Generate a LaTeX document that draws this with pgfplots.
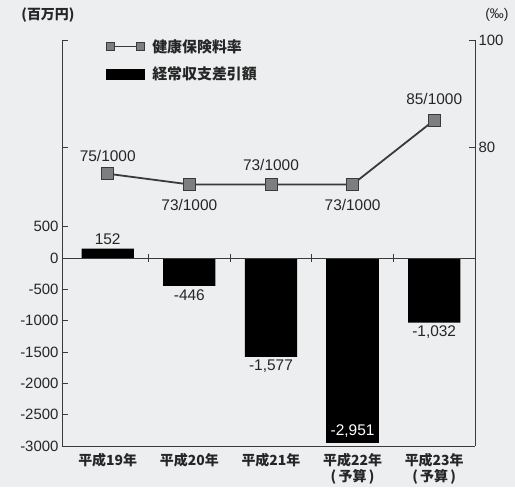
\documentclass[border=0pt]{standalone}
\usepackage{pgfplots}
\pgfplotsset{compat=1.18}
\usepackage{pgfplotstable}
\usepackage{fontspec}
\setmainfont{Liberation Sans}
\newfontfamily\cjk{Noto Sans CJK JP}
\definecolor{bg}{HTML}{ECEEEF}
\definecolor{mk}{HTML}{7E7E7E}
\definecolor{ax}{HTML}{3A3A3A}

\pgfplotstableread{
x y
0 152
1 -446
2 -1577
4 -1032
}\barsA
\pgfplotstableread{
x y
3 -2951
}\barsB
\pgfplotstableread{
x y lab ys
0 75 75/1000 18
1 73 73/1000 -21
2 73 73/1000 19
3 73 73/1000 -21
4 85 85/1000 21
}\rate

\begin{document}
\begin{tikzpicture}
\fill[bg] (-62bp,-41bp) rectangle (453bp,446bp);
\begin{axis}[
  scale only axis, width=413bp, height=406bp,
  xmin=-0.56, xmax=4.5, ymin=-3000, ymax=3480,
  axis x line*=bottom, axis y line*=left,
  axis line style={-, draw=ax, line width=0.9bp},
  tick align=inside, major tick length=6bp,
  ytick={-3000,-2500,-2000,-1500,-1000,-500,0,500},
  ytick style={draw=ax, line width=0.8bp},
  xtick={0,1,2,3,4},
  xtick style={draw=none},
  xticklabels={平成19年,平成20年,平成21年,{平成22年\\(\,予算\,)},{平成23年\\(\,予算\,)}},
  xticklabel style={font=\cjk\bfseries\fontsize{14}{16}\selectfont, align=center, yshift=-4bp, text=black!85},
  yticklabel style={font=\fontsize{15}{15}\selectfont, text=black!85, /pgf/number format/1000 sep={}},
  /pgf/number format/assume math mode=true,
  clip=false,
  every node near coord/.append style={font=\fontsize{15.5}{15.5}\selectfont},
  nodes near coords={\pgfmathprintnumber[assume math mode=true, 1000 sep={,}]{\pgfplotspointmeta}},
]
\addplot[ybar, bar width=0.64, fill=black, draw=none,
  nodes near coords, point meta=y,
  every node near coord/.append style={text=black!85}]
  table[x=x, y=y]{\barsA};
\addplot[ybar, bar width=0.64, fill=black, draw=none,
  nodes near coords, point meta=y,
  every node near coord/.append style={text=white, yshift=22bp}]
  table[x=x, y=y]{\barsB};
\draw[ax, line width=0.9bp] (axis cs:-0.56,0) -- (axis cs:4.5,0);
\pgfplotsinvokeforeach{0.5,1.5,2.5,3.5}{\draw[ax, line width=0.8bp] ([yshift=-4bp]axis cs:#1,0) -- ([yshift=4bp]axis cs:#1,0);}
\node[font=\cjk\bfseries\fontsize{14}{14}\selectfont, text=black!85] at (rel axis cs:-0.034,1) [yshift=25bp] {(百万円)};
\node[font=\fontsize{14}{14}\selectfont, text=black!85] at (rel axis cs:1.053,1) [yshift=25bp] {(‰)};
\end{axis}
\begin{axis}[
  scale only axis, width=413bp, height=406bp,
  xmin=-0.56, xmax=4.5, ymin=24.1, ymax=100,
  hide x axis,
  axis line style={-, draw=ax, line width=0.9bp},
  tick align=inside, major tick length=6bp,
  ytick={80,100},
  yticklabel pos=right, ytick pos=both,
  ytick style={draw=ax, line width=0.8bp},
  yticklabel style={font=\fontsize{15}{15}\selectfont, text=black!85},
  /pgf/number format/assume math mode=true,
  clip=false,
  legend style={at={(rel axis cs:0.098,1.012)}, anchor=north west, draw=none, fill=none,
    font=\cjk\bfseries\fontsize{15}{15}\selectfont, row sep=9bp, text=black!85,
    /tikz/every odd column/.append style={column sep=6bp}},
  legend cell align=left,
]
\addplot[draw=ax, line width=1.8bp, mark=square*, mark size=6bp,
  mark options={fill=mk, draw=ax, line width=0.8bp},
  legend image code/.code={\draw[draw=ax, line width=1.2bp] (4bp,0bp) -- (34bp,0bp);
    \draw[fill=mk, draw=ax, line width=0.6bp] (0bp,-4bp) rectangle (8bp,4bp);
    \draw[fill=mk, draw=ax, line width=0.6bp] (30bp,-4bp) rectangle (38bp,4bp);},
  nodes near coords, point meta=explicit symbolic,
  visualization depends on={\thisrow{ys}\as\ys},
  every node near coord/.append style={anchor=center, yshift=\ys bp, text=black!85, font=\fontsize{15.5}{15.5}\selectfont}]
  table[x=x, y=y, meta=lab]{\rate};
\addlegendentry{健康保険料率}
\addlegendimage{legend image code/.code={\fill[black] (0bp,-5bp) rectangle (38bp,5bp);}}
\addlegendentry{経常収支差引額}
\end{axis}
\end{tikzpicture}
\end{document}
